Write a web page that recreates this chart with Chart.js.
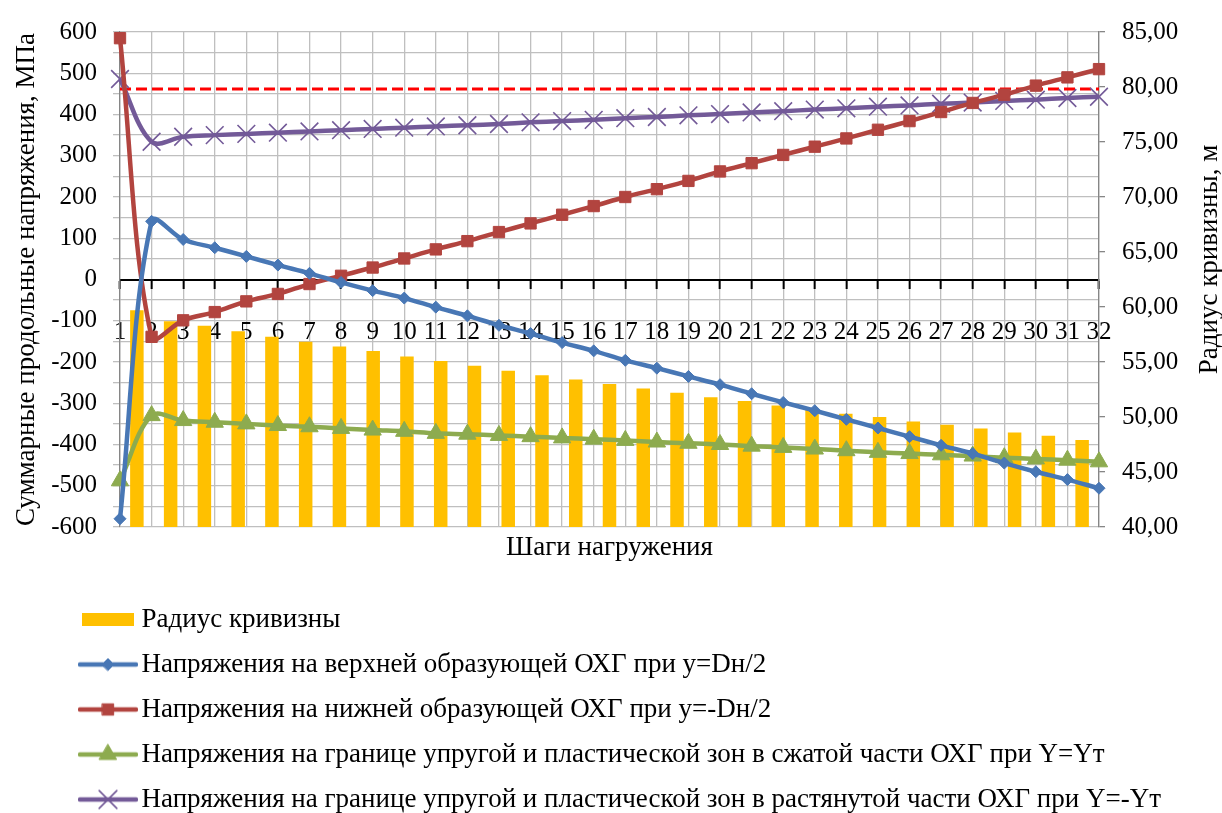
<!DOCTYPE html>
<html lang="ru">
<head>
<meta charset="utf-8">
<title>Напряжения и радиус кривизны по шагам нагружения</title>
<script src="https://cdn.jsdelivr.net/npm/chart.js@4.4.1/dist/chart.umd.min.js"></script>
<style>
  html, body { margin: 0; padding: 0; background: #ffffff; }
  #wrap { width: 1222px; height: 813px; position: relative; }
</style>
</head>
<body>
<div id="wrap"><canvas id="chart" width="1222" height="813"></canvas></div>
<script>
// Loading steps (line series axis)
const steps = ['1', '2', '3', '4', '5', '6', '7', '8', '9', '10', '11', '12', '13', '14', '15', '16',
  '17', '18', '19', '20', '21', '22', '23', '24', '25', '26', '27', '28', '29', '30', '31', '32'];

// Categories of the curvature radius columns (own hidden axis)
const radiusSteps = ['1', '2', '3', '4', '5', '6', '7', '8', '9', '10', '11', '12', '13', '14', '15',
  '16', '17', '18', '19', '20', '21', '22', '23', '24', '25', '26', '27', '28', '29'];

// Radius of curvature, m (right axis)
const curvatureRadius = [59.7, 58.7, 58.3, 57.8, 57.3, 56.85, 56.4, 56.0, 55.5, 55.1, 54.65, 54.2,
  53.8, 53.4, 53.0, 52.6, 52.2, 51.8, 51.45, 51.05, 50.7, 50.3, 50.0, 49.6, 49.3, 48.95, 48.6, 48.3, 47.9];

// Stresses, MPa (left axis)
const upperStress = [-580, 141, 97, 77, 56, 35, 15, -7, -27, -45, -67, -88, -111, -131, -153, -173,
  -196, -215, -235, -255, -277, -298, -318, -339, -360, -381, -402, -422, -445, -466, -485, -506];
const lowerStress = [585, -139, -99, -79, -53, -35, -11, 9, 29, 51, 73, 93, 115, 136, 157, 178,
  200, 219, 239, 262, 282, 302, 322, 342, 363, 384, 406, 428, 448, 470, 490, 510];
const compressedBoundary = [-488, -330, -342, -346, -350, -354, -357, -361, -365, -368, -373, -375,
  -378, -381, -384, -387, -390, -394, -397, -400, -404, -407, -411, -415, -419, -422, -425, -428,
  -432, -435, -438, -442];
const stretchedBoundary = [486, 334, 346, 350, 353, 356, 359, 362, 365, 368, 371, 374, 377, 381,
  384, 387, 391, 394, 398, 401, 405, 408, 412, 415, 419, 422, 426, 429, 433, 436, 440, 443];

// Limit stress level, MPa (dashed line)
const limitStress = 462;

const seriesNames = [
  'Радиус кривизны',
  'Напряжения на верхней образующей ОХГ при y=Dн/2',
  'Напряжения на нижней образующей ОХГ при y=-Dн/2',
  'Напряжения на границе упругой и пластической зон в сжатой части ОХГ при Y=Yт',
  'Напряжения на границе упругой и пластической зон в растянутой части ОХГ при Y=-Yт'
];

const FONT = '"Liberation Serif", "Times New Roman", serif';
const TITLE_SIZE = 27;
const GRID = '#BFBFBF';
const AXIS = '#868686';
const COLORS = {
  bar: '#FFC000',
  upper: '#4877B5',
  lower: '#B2443F',
  compressed: '#8DAB4F',
  stretched: '#735A98',
  limit: '#FF0000'
};

// Marker look per series: [pointStyle, radius, borderWidth]
const MARKERS = {
  upper: ['rectRot', 6, 1],
  lower: ['rect', 8, 1],
  compressed: ['triangle', 10, 1],
  stretched: ['crossRot', 12.5, 1.6]
};

Chart.defaults.font.family = FONT;
Chart.defaults.font.size = 25;
Chart.defaults.color = '#000000';

// Legend glyphs: a line with its marker, or a filled swatch for the columns
function lineGlyph(color, marker) {
  const [pointStyle, radius, borderWidth] = marker;
  const c = document.createElement('canvas');
  c.width = 60; c.height = 28;
  const g = c.getContext('2d');
  g.strokeStyle = color;
  g.lineWidth = 4.5;
  g.lineCap = 'round';
  g.beginPath(); g.moveTo(2, 14); g.lineTo(58, 14); g.stroke();
  g.fillStyle = color;
  g.lineWidth = borderWidth;
  Chart.helpers.drawPoint(g, { pointStyle, radius, rotation: 0, borderWidth }, 30, 14);
  return c;
}
function swatchGlyph(color) {
  const c = document.createElement('canvas');
  c.width = 52; c.height = 13;
  const g = c.getContext('2d');
  g.fillStyle = color;
  g.fillRect(0, 0, 52, 13);
  return c;
}

const legendGlyphs = {
  0: swatchGlyph(COLORS.bar),
  1: lineGlyph(COLORS.upper, MARKERS.upper),
  2: lineGlyph(COLORS.lower, MARKERS.lower),
  3: lineGlyph(COLORS.compressed, MARKERS.compressed),
  4: lineGlyph(COLORS.stretched, MARKERS.stretched)
};

// Legend: one entry per row, shifted under the plot
const LEGEND_SHIFT_X = 70;
const LEGEND_SHIFT_Y = 10;
const legendRows = {
  id: 'legendRows',
  beforeUpdate(chart) {
    const lg = chart.legend;
    if (!lg || lg.$rowsPatched) return;
    lg.$rowsPatched = true;
    const fitRows = lg._fitRows;
    lg._fitRows = function (...args) {
      const w = this.maxWidth;
      this.maxWidth = 1;
      const h = fitRows.apply(this, args);
      this.maxWidth = w;
      return h;
    };
    const draw = lg._draw;
    lg._draw = function () {
      const { left, right, top } = this;
      this.left = left + LEGEND_SHIFT_X;
      this.right = this.left + 1;
      this.top = top + LEGEND_SHIFT_Y;
      draw.call(this);
      this.left = left; this.right = right; this.top = top;
    };
  }
};

// Right axis title, reading bottom to top
const rightAxisTitle = {
  id: 'rightAxisTitle',
  afterDraw(chart, args, opts) {
    const s = chart.scales.y1;
    const ctx = chart.ctx;
    ctx.save();
    ctx.font = TITLE_SIZE + 'px ' + FONT;
    ctx.fillStyle = '#000000';
    ctx.textAlign = 'center';
    ctx.textBaseline = 'middle';
    ctx.translate(s.right - opts.inset, (s.top + s.bottom) / 2 - opts.raise);
    ctx.rotate(-Math.PI / 2);
    ctx.fillText(opts.text, 0, 0);
    ctx.restore();
  }
};

function lineSeries(label, data, color, marker) {
  const [pointStyle, radius, borderWidth] = marker;
  return {
    type: 'line',
    label,
    data,
    xAxisID: 'x',
    yAxisID: 'y',
    borderColor: color,
    backgroundColor: color,
    borderWidth: 4.5,
    tension: 0.35,
    pointStyle,
    pointRadius: radius,
    pointHoverRadius: radius,
    pointBackgroundColor: color,
    pointBorderColor: color,
    pointBorderWidth: borderWidth,
    fill: false,
    order: 1
  };
}

new Chart(document.getElementById('chart'), {
  data: {
    datasets: [
      {
        type: 'bar',
        label: seriesNames[0],
        data: curvatureRadius,
        xAxisID: 'x2',
        yAxisID: 'y1',
        backgroundColor: COLORS.bar,
        borderWidth: 0,
        grouped: false,
        barPercentage: 0.4,
        categoryPercentage: 1,
        order: 2
      },
      lineSeries(seriesNames[1], upperStress, COLORS.upper, MARKERS.upper),
      lineSeries(seriesNames[2], lowerStress, COLORS.lower, MARKERS.lower),
      lineSeries(seriesNames[3], compressedBoundary, COLORS.compressed, MARKERS.compressed),
      lineSeries(seriesNames[4], stretchedBoundary, COLORS.stretched, MARKERS.stretched),
      {
        type: 'line',
        label: 'limit',
        data: [{ x: steps[0], y: limitStress }, { x: steps[steps.length - 1], y: limitStress }],
        xAxisID: 'x',
        yAxisID: 'y',
        borderColor: COLORS.limit,
        borderWidth: 3,
        borderDash: [11, 5],
        pointRadius: 0,
        tension: 0,
        fill: false,
        order: 1
      }
    ]
  },
  options: {
    responsive: false,
    animation: false,
    devicePixelRatio: 1,
    layout: { padding: { top: 28, left: 0, right: 0, bottom: 0 } },
    plugins: {
      tooltip: { enabled: false },
      legend: {
        position: 'bottom',
        align: 'start',
        labels: {
          font: { size: TITLE_SIZE },
          color: '#000000',
          padding: 18,
          usePointStyle: true,
          pointStyleWidth: 40,
          generateLabels(chart) {
            const items = Chart.defaults.plugins.legend.labels.generateLabels(chart);
            return items
              .filter(it => legendGlyphs[it.datasetIndex])
              .sort((a, b) => a.datasetIndex - b.datasetIndex)
              .map(it => Object.assign(it, { pointStyle: legendGlyphs[it.datasetIndex], rotation: 0 }));
          }
        }
      },
      rightAxisTitle: { text: 'Радиус кривизны, м', inset: 12, raise: 20 }
    },
    scales: {
      x: {
        type: 'category',
        labels: steps,
        position: { y: 0 },
        offset: false,
        grid: { color: GRID, lineWidth: 1.3, tickColor: '#000000', tickWidth: 2, tickLength: 8 },
        border: { color: '#000000', width: 2 },
        ticks: { autoSkip: false, maxRotation: 0, minRotation: 0, padding: 30, font: { size: 25 } }
      },
      x2: {
        type: 'category',
        labels: radiusSteps,
        position: 'bottom',
        offset: true,
        grid: { display: false, drawTicks: false },
        border: { display: false },
        ticks: { display: false },
        title: { display: true, text: 'Шаги нагружения', font: { size: TITLE_SIZE }, padding: { top: 4.6, bottom: 14 } }
      },
      y: {
        type: 'linear',
        position: 'left',
        min: -600,
        max: 600,
        ticks: {
          stepSize: 50,
          maxTicksLimit: 30,
          autoSkip: false,
          padding: 16,
          font: { size: 25 },
          callback: v => (v % 100 === 0 ? String(v) : '')
        },
        grid: {
          color: ctx => (ctx.tick && ctx.tick.value === 0 ? 'rgba(0,0,0,0)' : GRID),
          lineWidth: 1.3,
          tickLength: 7
        },
        border: { color: AXIS, width: 1.3 },
        title: { display: true, text: 'Суммарные продольные напряжения, МПа', font: { size: TITLE_SIZE }, padding: { top: 11, bottom: 0 } },
        afterFit(s) { s.width = 120; }
      },
      y1: {
        type: 'linear',
        position: 'right',
        min: 40,
        max: 85,
        ticks: {
          stepSize: 5,
          padding: 17,
          font: { size: 25 },
          callback: v => Number(v).toFixed(2).replace('.', ',')
        },
        grid: { drawOnChartArea: false, color: AXIS, lineWidth: 1.3, tickLength: 6 },
        border: { color: AXIS, width: 1.3 },
        afterFit(s) { s.width = 123; }
      }
    }
  },
  plugins: [legendRows, rightAxisTitle]
});
</script>
</body>
</html>
